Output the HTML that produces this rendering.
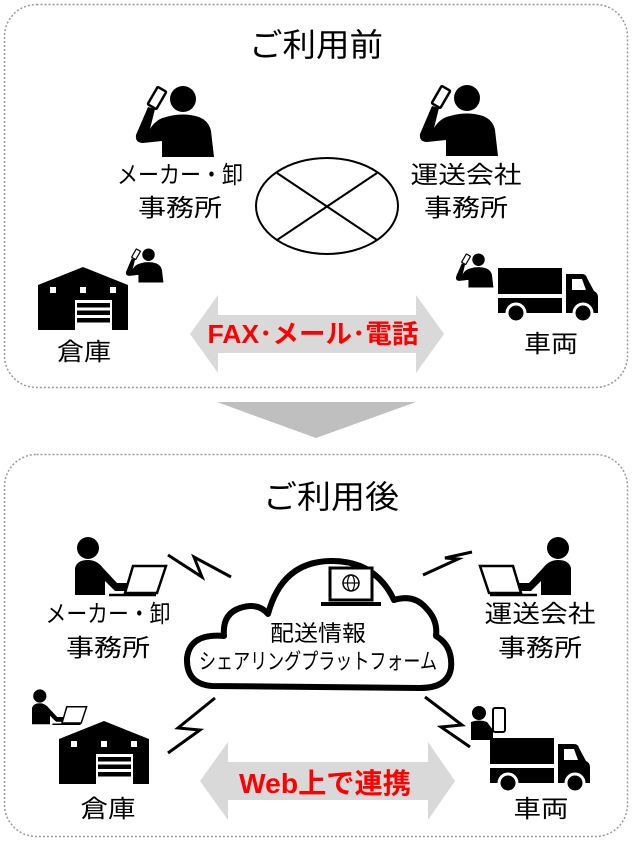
<!DOCTYPE html>
<html><head><meta charset="utf-8"><style>
html,body{margin:0;padding:0;background:#fff;}
svg{display:block;}
text{font-family:"Liberation Sans","Noto Sans CJK JP",sans-serif;}
</style></head><body>
<svg width="632" height="842" viewBox="0 0 632 842" xmlns="http://www.w3.org/2000/svg">
<defs>
  <g id="phoneman">
    <circle cx="49" cy="14" r="13" fill="#000"/>
    <path d="M32 32 Q49 27 65 32 Q75 36 77 46 L80 72 L28 72 L28 56 L9 58 Q1 58 2 50 L14 22 L21 24 L16 44 Q22 34 32 32 Z" fill="#000"/>
    <rect x="18" y="3" width="10" height="20" rx="1" transform="rotate(30 23 13)" fill="#fff" stroke="#000" stroke-width="2.5"/>
  </g>
  <g id="lapman">
    <circle cx="13" cy="10" r="11" fill="#000"/>
    <path d="M0 57 L0 30 Q2 22 13 22 Q22 22 28 30 L42 45 L58 45 Q62 49 58 53 L40 53 L30 43 L30 57 Z" fill="#000"/>
    <path d="M58 28 L91 28 L82 55 L50 55 Z" fill="#fff" stroke="#000" stroke-width="2.5"/>
    <line x1="34" y1="57" x2="81" y2="57" stroke="#000" stroke-width="2.5"/>
  </g>
  <g id="warehouse">
    <path d="M0 18 L45 0 L90 18 L90 63 L0 63 Z" fill="#000"/>
    <rect x="12" y="20" width="6" height="6" fill="#fff"/>
    <rect x="42" y="20" width="6" height="6" fill="#fff"/>
    <rect x="72" y="20" width="6" height="6" fill="#fff"/>
    <rect x="37" y="33" width="37" height="30" fill="#fff"/>
    <rect x="39" y="36" width="33" height="4.5" fill="#000"/>
    <rect x="39" y="43.5" width="33" height="4.5" fill="#000"/>
    <rect x="39" y="51" width="33" height="4.5" fill="#000"/>
  </g>
  <g id="truck">
    <rect x="0" y="0" width="64" height="26" fill="#000"/>
    <rect x="0" y="30" width="64" height="15" fill="#000"/>
    <path d="M68 6 L84 6 Q88 6 89 10 L96 23 Q100 25 100 29 L100 45 L68 45 Z" fill="#000"/>
    <path d="M74 11 L84 11 L88 22 L74 22 Z" fill="#fff"/>
    <circle cx="18" cy="45" r="9" fill="#000" stroke="#fff" stroke-width="3"/>
    <circle cx="85" cy="45" r="9" fill="#000" stroke="#fff" stroke-width="3"/>
  </g>
</defs>

<!-- top box -->
<rect x="4.5" y="4.5" width="623" height="383" rx="32" fill="#fff" stroke="#999" stroke-width="1.5" stroke-dasharray="2,2"/>
<text x="316" y="56" font-size="32" text-anchor="middle" textLength="134" lengthAdjust="spacingAndGlyphs">ご利用前</text>

<use href="#phoneman" x="134" y="85"/>
<use href="#phoneman" x="418" y="84"/>
<text x="180" y="183" font-size="24" text-anchor="middle" textLength="126" lengthAdjust="spacingAndGlyphs">メーカー・卸</text>
<text x="180" y="216" font-size="24" text-anchor="middle" textLength="84" lengthAdjust="spacingAndGlyphs">事務所</text>
<text x="466" y="183" font-size="24" text-anchor="middle" textLength="111" lengthAdjust="spacingAndGlyphs">運送会社</text>
<text x="466" y="216" font-size="24" text-anchor="middle" textLength="84" lengthAdjust="spacingAndGlyphs">事務所</text>

<ellipse cx="327" cy="206" rx="71" ry="48" fill="#fff" stroke="#000" stroke-width="2"/>
<line x1="277" y1="173" x2="377" y2="240" stroke="#000" stroke-width="2"/>
<line x1="377" y1="173" x2="277" y2="240" stroke="#000" stroke-width="2"/>

<use href="#warehouse" x="38" y="267"/>
<g transform="translate(125,248) scale(0.48)"><use href="#phoneman"/></g>
<use href="#truck" x="498" y="268"/>
<g transform="translate(455,253) scale(0.48)"><use href="#phoneman"/></g>

<path d="M190 334 L218 295 L218 315 L416 315 L416 295 L444 334 L416 373 L416 353 L218 353 L218 373 Z" fill="#d9d9d9"/>
<text x="313" y="343" font-size="26" font-weight="bold" fill="#ff0000" text-anchor="middle" textLength="211" lengthAdjust="spacingAndGlyphs">FAX･メール･電話</text>
<text x="84" y="360" font-size="24" text-anchor="middle" textLength="54" lengthAdjust="spacingAndGlyphs">倉庫</text>
<text x="551" y="352" font-size="24" text-anchor="middle" textLength="54" lengthAdjust="spacingAndGlyphs">車両</text>

<polygon points="217,402 416,402 316,438" fill="#bfbfbf"/>

<!-- bottom box -->
<rect x="4.5" y="454.5" width="623" height="382" rx="32" fill="#fff" stroke="#999" stroke-width="1.5" stroke-dasharray="2,2"/>
<text x="331" y="508" font-size="32" text-anchor="middle" textLength="136" lengthAdjust="spacingAndGlyphs">ご利用後</text>

<use href="#lapman" x="75" y="538"/>
<g transform="translate(571,538) scale(-1,1)"><use href="#lapman"/></g>
<text x="108" y="622" font-size="24" text-anchor="middle" textLength="125" lengthAdjust="spacingAndGlyphs">メーカー・卸</text>
<text x="108" y="656" font-size="24" text-anchor="middle" textLength="84" lengthAdjust="spacingAndGlyphs">事務所</text>
<text x="540" y="622" font-size="24" text-anchor="middle" textLength="111" lengthAdjust="spacingAndGlyphs">運送会社</text>
<text x="540" y="656" font-size="24" text-anchor="middle" textLength="84" lengthAdjust="spacingAndGlyphs">事務所</text>

<!-- cloud -->
<path d="M212 686 Q186 684 187 658 Q190 633 224 636 Q222 614 240 608 Q258 602 268 614 Q282 562 330 561 Q375 560 394 600 Q414 594 426 608 Q438 620 436 636 Q453 646 451 668 Q448 688 420 688 L212 686 Z" fill="#fff" stroke="#000" stroke-width="6" stroke-linejoin="round"/>
<rect x="330" y="568" width="42" height="32" fill="#fff" stroke="#000" stroke-width="3"/>
<rect x="321" y="602" width="60" height="4" fill="#000"/>
<circle cx="351" cy="583" r="8" fill="none" stroke="#000" stroke-width="1.5"/>
<ellipse cx="351" cy="583" rx="3.5" ry="8" fill="none" stroke="#000" stroke-width="1.2"/>
<line x1="343" y1="583" x2="359" y2="583" stroke="#000" stroke-width="1.2"/>
<text x="318" y="641" font-size="22" text-anchor="middle" textLength="96" lengthAdjust="spacingAndGlyphs">配送情報</text>
<text x="318" y="669" font-size="22" text-anchor="middle" textLength="238" lengthAdjust="spacingAndGlyphs">シェアリングプラットフォーム</text>

<!-- lightning -->
<g fill="none" stroke="#000" stroke-width="3">
<polyline points="168,555 202,577 194,557 231,577"/>
<polyline points="423,575 458,559 445,558 472,552"/>
<polyline points="215,698 178,728 200,730 168,753"/>
<polyline points="425,697 462,725 441,727 470,747"/>
</g>

<g transform="translate(32,690) scale(0.6)"><use href="#lapman"/></g>
<use href="#warehouse" x="59" y="721"/>
<use href="#truck" x="490" y="738"/>
<circle cx="479" cy="713" r="7" fill="#000"/>
<path d="M471 722 Q479 719 487 722 L493 730 L493 740 L471 740 Z" fill="#000"/>
<rect x="493" y="708" width="12" height="24" rx="2" fill="#fff" stroke="#000" stroke-width="2"/>

<path d="M200 781 L228 742 L228 762 L428 762 L428 742 L455 781 L428 820 L428 800 L228 800 L228 820 Z" fill="#d9d9d9"/>
<text x="325" y="793" font-size="28" font-weight="bold" fill="#ff0000" text-anchor="middle" textLength="172" lengthAdjust="spacingAndGlyphs">Web上で連携</text>
<text x="108" y="817" font-size="24" text-anchor="middle" textLength="55" lengthAdjust="spacingAndGlyphs">倉庫</text>
<text x="541" y="817" font-size="24" text-anchor="middle" textLength="55" lengthAdjust="spacingAndGlyphs">車両</text>
</svg>
</body></html>
